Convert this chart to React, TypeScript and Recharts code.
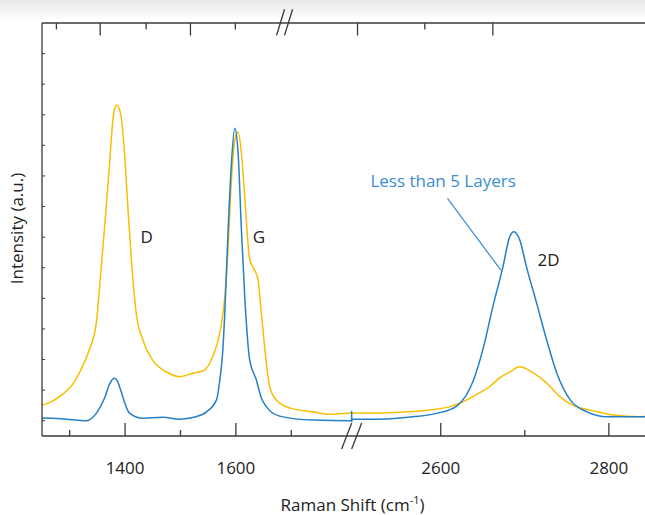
import { LineChart, Line, XAxis, YAxis, ReferenceLine, ReferenceDot } from "recharts";

// Raman shift (cm-1) and intensity (a.u.)
const goldShift = [
  1250, 1269, 1287, 1305, 1317, 1335, 1348, 1353, 1360, 1366, 1372, 1378, 1381, 1385, 1389, 1393, 1399, 1405,
  1411, 1420, 1432, 1450, 1474, 1498, 1522, 1543, 1558, 1571, 1580, 1586, 1592, 1598, 1604, 1610, 1616, 1625,
  1634, 1640, 1646, 1655, 1661, 1673, 1697, 1739, 1770, 1809,
  2494, 2527, 2559, 2587, 2611, 2623, 2635, 2646, 2658, 2670, 2682, 2694, 2710, 2726, 2742, 2757, 2781, 2805,
  2837, 2843,
];
const goldIntensity = [
  0.51, 0.64, 0.86, 1.18, 1.55, 2.3, 3.19, 4.17, 5.69, 6.99, 8.42, 9.83, 10.18, 10.32, 10.22, 9.93, 8.75, 6.99,
  5.36, 3.52, 2.64, 1.97, 1.6, 1.44, 1.55, 1.65, 2.09, 2.87, 4.05, 5.69, 7.87, 9.17, 9.44, 8.75, 7.32, 5.26,
  4.92, 4.6, 3.52, 1.89, 1.11, 0.68, 0.42, 0.29, 0.21, 0.25,
  0.25, 0.25, 0.29, 0.35, 0.46, 0.58, 0.74, 0.91, 1.11, 1.4, 1.59, 1.76, 1.56, 1.23, 0.78, 0.51, 0.33, 0.19,
  0.13, 0.15,
];

const blueShift = [
  1250, 1269, 1299, 1330, 1348, 1363, 1372, 1377, 1381, 1386, 1392, 1399, 1408, 1432, 1468, 1498, 1528, 1547,
  1565, 1571, 1576, 1580, 1586, 1592, 1598, 1604, 1610, 1616, 1625, 1637, 1646, 1655, 1679, 1739, 1809,
  2494, 2527, 2567, 2595, 2619, 2639, 2651, 2662, 2674, 2682, 2687, 2694, 2702, 2714, 2726, 2738, 2754, 2774,
  2798, 2837, 2843,
];
const blueIntensity = [
  0.09, 0.08, 0.04, 0.0, 0.24, 0.74, 1.2, 1.35, 1.39, 1.3, 1.0, 0.6, 0.25, 0.08, 0.11, 0.05, 0.13, 0.29,
  0.68, 1.33, 2.2, 3.52, 6.23, 8.42, 9.56, 8.75, 6.23, 4.05, 1.98, 1.33, 0.74, 0.46, 0.15, 0.02, 0.0,
  0.05, 0.05, 0.13, 0.24, 0.48, 1.33, 2.42, 3.73, 5.03, 6.01, 6.18, 5.91, 5.03, 3.85, 2.64, 1.56, 0.68, 0.29,
  0.13, 0.13, 0.13,
];

const bottomTicks = [1300, 1400, 1500, 1600, 1700, 2600, 2700, 2800];
const bottomLabels = ["", "1400", "", "1600", "", "2600", "", "2800"];
const topTicks = [1276, 1355, 1438, 1518, 1599, 2501, 2581, 2662];
const topMajor = [false, true, false, true, false, true, false, true];
const yTicks = [0, 1, 2, 3, 4, 5, 6, 7, 8, 9, 10, 11, 12];

// broken axis: two shift ranges share one axis
const lowRange = [1250.5, 1809];
const highRange = [2494, 2843];
const SPLIT = 0.5133;

const toPos = (s: number) =>
  s <= lowRange[1]
    ? (SPLIT * (s - lowRange[0])) / (lowRange[1] - lowRange[0])
    : SPLIT + ((1 - SPLIT) * (s - highRange[0])) / (highRange[1] - highRange[0]);

const goldData = goldShift.map((s, i) => ({ pos: toPos(s), y: goldIntensity[i] }));
const blueData = blueShift.map((s, i) => ({ pos: toPos(s), y: blueIntensity[i] }));

const GOLD = "#F8BE00";
const BLUE = "#237FC6";
const NOTE_BLUE = "#3A8DD3";
const AXIS = "#3a3a3a";
const FONT = "'Open Sans', sans-serif";
const FS = 17;

const BottomTick = ({ x, y, index }: any) => {
  const label = bottomLabels[index];
  return (
    <g>
      <line x1={x} x2={x} y1={y} y2={y - (label ? 13 : 6)} stroke={AXIS} strokeWidth={1.3} />
      {label && (
        <text x={x} y={y + 38} textAnchor="middle" fontSize={FS} fontFamily={FONT} fill="#222">
          {label}
        </text>
      )}
    </g>
  );
};

const TopTick = ({ x, y, index }: any) => (
  <g>
    <line x1={x} x2={x} y1={y} y2={y + (topMajor[index] ? 12.5 : 6.5)} stroke={AXIS} strokeWidth={1.3} />
  </g>
);

const YTick = ({ x, y }: any) => (
  <g>
    <line x1={x} x2={x + 3} y1={y} y2={y} stroke={AXIS} strokeWidth={1} />
  </g>
);

const XTitle = ({ viewBox }: any) => (
  <text
    x={viewBox.x + viewBox.width * SPLIT + 1}
    y={viewBox.y + 75}
    textAnchor="middle"
    fontSize={FS}
    fontFamily={FONT}
    fill="#222"
  >
    Raman Shift (cm
    <tspan dy={-7} fontSize={11}>-1</tspan>
    <tspan dy={7}>)</tspan>
  </text>
);

const YTitle = ({ viewBox }: any) => {
  const cx = viewBox.x + viewBox.width - 20;
  const cy = viewBox.y + viewBox.height / 2 - 1;
  return (
    <text
      x={cx}
      y={cy}
      transform={`rotate(-90 ${cx} ${cy})`}
      textAnchor="middle"
      fontSize={FS}
      fontFamily={FONT}
      fill="#222"
    >
      Intensity (a.u.)
    </text>
  );
};

const note = (text: string, color: string) => (p: any) => (
  <text x={p.cx} y={p.cy} fontSize={FS} fontFamily={FONT} fill={color}>
    {text}
  </text>
);

const slash = { stroke: AXIS, strokeWidth: 1.3 };
const px = 1 / 602;

export default function App() {
  return (
    <div style={{ position: "absolute", left: 0, top: 0, width: 645, height: 515, background: "#fff" }}>
      <div
        style={{
          position: "absolute",
          left: 0,
          top: 0,
          width: 645,
          height: 20,
          background: "linear-gradient(#e8e8e8, #ffffff)",
        }}
      />
      <LineChart
        width={645}
        height={515}
        margin={{ top: 22, right: 0, bottom: 39, left: 42 }}
        style={{ position: "absolute", left: 0, top: 0 }}
      >
        <XAxis
          dataKey="pos"
          type="number"
          domain={[0, 1]}
          ticks={bottomTicks.map(toPos)}
          interval={0}
          height={40}
          tickSize={0}
          tickMargin={0}
          tickLine={false}
          tick={<BottomTick />}
          axisLine={{ stroke: AXIS, strokeWidth: 1.3 }}
          label={<XTitle />}
        />
        <XAxis
          xAxisId="top"
          orientation="top"
          dataKey="pos"
          type="number"
          domain={[0, 1]}
          ticks={topTicks.map(toPos)}
          interval={0}
          height={1}
          tickSize={0}
          tickMargin={0}
          tickLine={false}
          tick={<TopTick />}
          axisLine={{ stroke: AXIS, strokeWidth: 1.3 }}
        />
        <YAxis
          type="number"
          domain={[-0.5, 13]}
          ticks={yTicks}
          interval={0}
          width={1}
          mirror
          tick={<YTick />}
          tickSize={0}
          tickMargin={0}
          tickLine={false}
          axisLine={{ stroke: AXIS, strokeWidth: 1.3 }}
          label={<YTitle />}
        />

        <Line data={goldData} dataKey="y" type="monotone" stroke={GOLD} strokeWidth={1.5} dot={false} isAnimationActive={false} />
        <Line
          data={blueData}
          xAxisId="top"
          dataKey="y"
          type="monotone"
          stroke={BLUE}
          strokeWidth={1.5}
          dot={false}
          isAnimationActive={false}
        />

        {/* blue jump at the break */}
        <ReferenceLine segment={[{ x: SPLIT, y: 0.32 }, { x: SPLIT, y: -0.04 }]} stroke={BLUE} strokeWidth={1.5} ifOverflow="visible" />

        {/* axis breaks */}
        <ReferenceLine segment={[{ x: 0.402 - 8 * px, y: 12.6 }, { x: 0.402, y: 13.45 }]} {...slash} ifOverflow="visible" />
        <ReferenceLine segment={[{ x: 0.402, y: 12.6 }, { x: 0.402 + 8 * px, y: 13.45 }]} {...slash} ifOverflow="visible" />
        <ReferenceLine segment={[{ x: SPLIT - 10 * px, y: -0.925 }, { x: SPLIT, y: -0.075 }]} {...slash} ifOverflow="visible" />
        <ReferenceLine segment={[{ x: SPLIT, y: -0.925 }, { x: SPLIT + 10 * px, y: -0.075 }]} {...slash} ifOverflow="visible" />

        {/* annotations */}
        <ReferenceLine
          segment={[{ x: toPos(2608), y: 7.27 }, { x: toPos(2671.5), y: 4.92 }]}
          stroke={NOTE_BLUE}
          strokeWidth={1.2}
        />
        <ReferenceDot x={toPos(1427.6)} y={5.82} r={0} shape={note("D", "#222")} />
        <ReferenceDot x={toPos(1630.6)} y={5.82} r={0} shape={note("G", "#222")} />
        <ReferenceDot x={toPos(2715.2)} y={5.06} r={0} shape={note("2D", "#222")} />
        <ReferenceDot x={toPos(2516.3)} y={7.65} r={0} shape={note("Less than 5 Layers", NOTE_BLUE)} />
      </LineChart>
    </div>
  );
}
